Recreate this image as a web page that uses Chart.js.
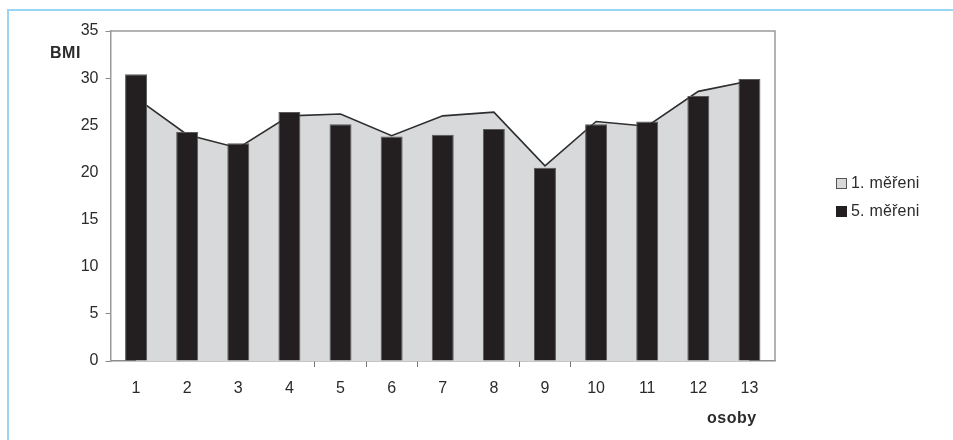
<!DOCTYPE html>
<html>
<head>
<meta charset="utf-8">
<script src="https://cdn.jsdelivr.net/npm/chart.js@4"></script>
<style>
    body { margin: 0; background: #ffffff; }
    #wrap { position: relative; width: 953px; height: 440px; overflow: hidden; }
    #frame { position: absolute; left: 7px; top: 9px; right: -3px; bottom: -3px;
             border-top: 2px solid #9ad6f2; border-left: 2px solid #9ad6f2; }
    .txt { position: absolute; font-family: "Liberation Sans", Arial, sans-serif; color: #2b2b2b; white-space: nowrap; }
    .bold { font-weight: bold; letter-spacing: 0.5px; }
    .legend-item { position: absolute; left: 836px; font-family: "Liberation Sans", Arial, sans-serif;
                   font-size: 16px; color: #2b2b2b; line-height: 16px; white-space: nowrap; letter-spacing: 0.2px; }
    .legend-item span { display: inline-block; width: 11px; height: 11px; margin-right: 4px;
                        box-sizing: border-box; vertical-align: -1px; }
</style>
</head>
<body>
<div id="wrap">
    <div id="frame"></div>
    <canvas id="bmiChart"></canvas>
    <div class="txt bold" style="left:50px; top:44px; font-size:16px;">BMI</div>
    <div class="txt bold" style="left:707px; top:409px; font-size:16px;">osoby</div>
    <div id="legend"></div>
</div>
<script>
// categories (persons) and BMI values
const persons = ['1', '2', '3', '4', '5', '6', '7', '8', '9', '10', '11', '12', '13'];
const firstMeasure = [27.9, 24.0, 22.6, 26.0, 26.2, 23.9, 26.0, 26.4, 20.7, 25.4, 24.9, 28.6, 29.7];
const fifthMeasure = [30.4, 24.3, 23.1, 26.4, 25.1, 23.8, 24.0, 24.6, 20.5, 25.1, 25.4, 28.1, 29.9];
const seriesNames = ['1. měřeni', '5. měřeni'];

// y ticks that still show their little tick mark in the scan
const yTicksShown = [0, 5, 30, 35];
// category boundaries that show a tick mark on the x axis
const xTicksShown = [4, 5, 6, 8, 9];

// draws the grey box round the plot area (top and right sides)
const plotFrame = {
    id: 'plotFrame',
    afterDraw(chart) {
        const { ctx, chartArea } = chart;
        ctx.save();
        ctx.strokeStyle = '#9a9a9a';
        ctx.lineWidth = 1.5;
        ctx.beginPath();
        ctx.moveTo(chartArea.left, chartArea.top);
        ctx.lineTo(chartArea.right, chartArea.top);
        ctx.lineTo(chartArea.right, chartArea.bottom);
        ctx.stroke();
        ctx.restore();
    }
};

function createChart() {
    const ctx = document.getElementById('bmiChart').getContext('2d');
    const chart = new Chart(ctx, {
        data: {
            labels: persons,
            datasets: [{
                type: 'line',
                label: seriesNames[0],
                data: firstMeasure,
                fill: 'origin',
                backgroundColor: '#d8d9db',
                borderColor: '#2e2e2e',
                borderWidth: 1.6,
                pointRadius: 0,
                tension: 0,
                order: 2
            }, {
                type: 'bar',
                label: seriesNames[1],
                data: fifthMeasure,
                backgroundColor: '#231f20',
                borderColor: '#5a5a5a',
                borderWidth: 1,
                categoryPercentage: 1,
                barPercentage: 0.43,
                order: 1
            }]
        },
        options: {
            responsive: true,
            maintainAspectRatio: false,
            animation: false,
            layout: { padding: { top: 31, right: 178, bottom: 0, left: 0 } },
            scales: {
                x: {
                    offset: true,
                    border: { color: '#8c8c8c', width: 1.5 },
                    grid: {
                        offset: true,
                        drawOnChartArea: false,
                        tickLength: 6,
                        color: c => xTicksShown.includes(c.index) ? '#777777' : 'rgba(0,0,0,0)'
                    },
                    ticks: {
                        color: '#2b2b2b',
                        padding: 12,
                        font: { family: '"Liberation Sans", Arial, sans-serif', size: 16 }
                    },
                    afterFit: scale => { scale.height = 79; }
                },
                y: {
                    min: 0,
                    max: 35,
                    border: { color: '#9a9a9a', width: 1.5 },
                    grid: {
                        drawOnChartArea: false,
                        tickLength: 5,
                        color: c => yTicksShown.includes(c.tick.value) ? '#8c8c8c' : 'rgba(0,0,0,0)'
                    },
                    ticks: {
                        stepSize: 5,
                        color: '#2b2b2b',
                        padding: 7,
                        font: { family: '"Liberation Sans", Arial, sans-serif', size: 16 }
                    },
                    afterFit: scale => { scale.width = 110.5; }
                }
            },
            plugins: {
                legend: { display: false },
                tooltip: { enabled: false }
            }
        },
        plugins: [plotFrame]
    });
    buildLegend(chart);
}

// legend on the right, made from the chart's own datasets
function buildLegend(chart) {
    const legend = document.getElementById('legend');
    const order = [0, 1];
    order.forEach((dsIndex, i) => {
        const ds = chart.data.datasets[dsIndex];
        const item = document.createElement('div');
        item.className = 'legend-item';
        item.style.top = (175 + i * 28) + 'px';
        const box = document.createElement('span');
        box.style.background = ds.backgroundColor;
        box.style.border = '1px solid ' + (dsIndex === 0 ? '#555555' : '#231f20');
        item.appendChild(box);
        item.appendChild(document.createTextNode(ds.label));
        legend.appendChild(item);
    });
}

createChart();
</script>
</body>
</html>
